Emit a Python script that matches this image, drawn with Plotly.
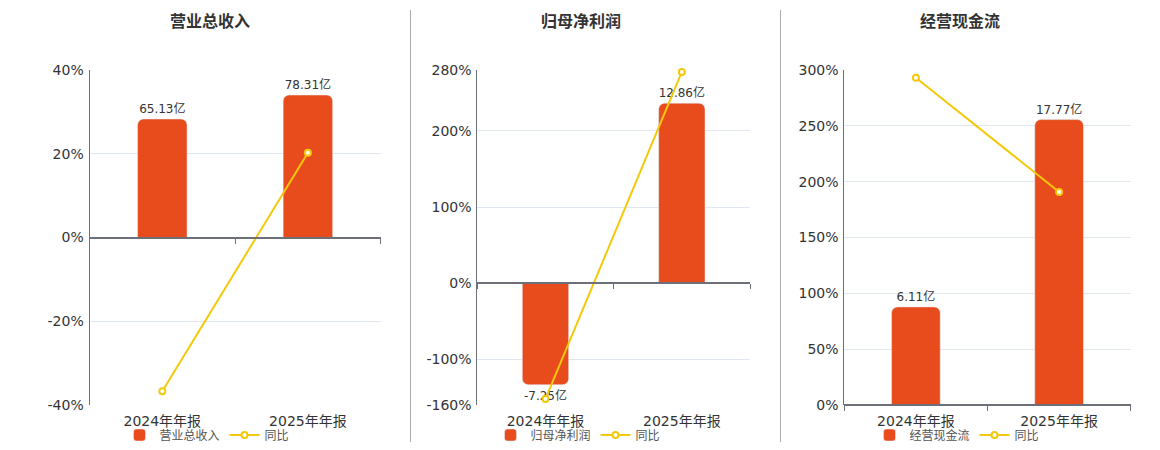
import plotly.graph_objects as go

categories = ["2024年年报", "2025年年报"]
titles = ["营业总收入", "归母净利润", "经营现金流"]
bar_values = [[65.13, 78.31], [-7.25, 12.86], [6.11, 17.77]]
bar_labels = [["65.13亿", "78.31亿"], ["-7.25亿", "12.86亿"], ["6.11亿", "17.77亿"]]
yoy_values = [[-36.73, 20.24], [-152.1, 277.38], [293.1, 190.8]]
pct_ranges = [[-40, 40], [-160, 280], [0, 300]]
pct_ticks = [[-40, -20, 0, 20, 40], [-160, -100, 0, 100, 200, 280], [0, 50, 100, 150, 200, 250, 300]]
bar_ranges = [[-92.06, 92.06], [-8.7, 15.23], [0, 20.86]]

# page body has an 8px margin; figure is sized to fit the 1160x450 window
OFF = 8
W, H = 1160 - 2 * OFF, 450 - 2 * OFF
BAR_COLOR = "#E84C1D"
LINE_COLOR = "#F4C80B"
TEXT = "#333333"
LEGEND_TEXT = "#555555"
AXIS = "#6E7079"
GRID = "#E0E6F1"
FONT = "DejaVu Sans, Noto Sans CJK SC, sans-serif"


def px(x):
    return (x - OFF) / W


def py(y):
    return (H - (y - OFF)) / H


x_domains = [[px(89.5), px(380.7)], [px(477.3), px(750.0)], [px(844.3), px(1130.7)]]
y_domain = [py(405), py(70)]
title_x = [px(210), px(581), px(960)]
legend_x = [px(207), px(578), px(957)]

fig = go.Figure()
layout = dict(
    width=W, height=H, margin=dict(l=0, r=0, t=0, b=0, autoexpand=False),
    paper_bgcolor="white", plot_bgcolor="white",
    font=dict(family=FONT, color=TEXT), showlegend=True,
    bargap=0.66, annotations=[], shapes=[],
)

for i in range(3):
    n = i + 1
    xa = "x" if n == 1 else f"x{n}"
    ya_bar = "y" if n == 1 else f"y{n}"
    ya_pct_n = n + 3
    xz_n = n + 3
    ya_pct = f"y{ya_pct_n}"
    xz = f"x{xz_n}"
    leg = "legend" if n == 1 else f"legend{n}"

    fig.add_trace(go.Bar(
        x=categories, y=bar_values[i], xaxis=xa, yaxis=ya_bar,
        name=titles[i], marker=dict(color=BAR_COLOR, cornerradius=6),
        text=bar_labels[i], textposition="outside", cliponaxis=False,
        textfont=dict(size=12, color=TEXT), legend=leg, hoverinfo="skip",
    ))
    fig.add_trace(go.Scatter(
        x=categories, y=yoy_values[i], xaxis=xa, yaxis=ya_pct,
        name="同比", mode="lines+markers", cliponaxis=False,
        line=dict(color=LINE_COLOR, width=2),
        marker=dict(symbol="circle", size=6, color="white",
                    line=dict(color=LINE_COLOR, width=2)),
        legend=leg, hoverinfo="skip",
    ))
    # empty trace to host the zero-line axis
    fig.add_trace(go.Scatter(x=[], y=[], xaxis=xz, yaxis=ya_bar, showlegend=False))

    layout["xaxis" if n == 1 else f"xaxis{n}"] = dict(
        domain=x_domains[i], anchor=ya_bar, type="category",
        showline=False, showgrid=False, ticks="", zeroline=False,
        tickfont=dict(size=14, color=TEXT), ticklabelstandoff=6,
    )
    layout["yaxis" if n == 1 else f"yaxis{n}"] = dict(
        domain=y_domain, anchor=xa, range=bar_ranges[i], visible=False,
        showgrid=False, zeroline=False,
    )
    layout[f"yaxis{ya_pct_n}"] = dict(
        domain=y_domain, anchor=xa, overlaying=ya_bar, side="left",
        range=pct_ranges[i], tickvals=pct_ticks[i],
        ticktext=[f"{v}%" for v in pct_ticks[i]],
        showline=True, linecolor=AXIS, linewidth=1, ticks="",
        showgrid=True, gridcolor=GRID, gridwidth=1, zeroline=False,
        tickfont=dict(size=14, color=TEXT), ticklabelstandoff=2,
    )
    lo, hi = pct_ranges[i]
    zero_frac = y_domain[0] + (0 - lo) / (hi - lo) * (y_domain[1] - y_domain[0])
    layout[f"xaxis{xz_n}"] = dict(
        domain=x_domains[i], overlaying=xa, anchor="free", position=zero_frac,
        range=[-0.5, 1.5], tickvals=[-0.5, 0.5, 1.5], ticks="outside",
        ticklen=5, tickcolor=AXIS, tickwidth=1, showticklabels=False,
        showline=True, linecolor=AXIS, linewidth=2, showgrid=False, zeroline=False,
    )
    layout[leg] = dict(
        orientation="h", x=legend_x[i], xanchor="center", y=py(435),
        yanchor="middle", font=dict(size=12, color=LEGEND_TEXT),
        bgcolor="rgba(0,0,0,0)", itemwidth=30, maxheight=100,
    )
    layout["annotations"].append(dict(
        text=f"<b>{titles[i]}</b>", x=title_x[i], y=py(22),
        xref="paper", yref="paper", showarrow=False,
        font=dict(size=16, color=TEXT), xanchor="center", yanchor="middle",
    ))

for sx in [410.5, 780.5]:
    layout["shapes"].append(dict(
        type="line", xref="paper", yref="paper", x0=px(sx), x1=px(sx),
        y0=py(443), y1=py(10), line=dict(color="#AAAAAA", width=1),
    ))

fig.update_layout(**layout)
fig.write_html("out.html")
